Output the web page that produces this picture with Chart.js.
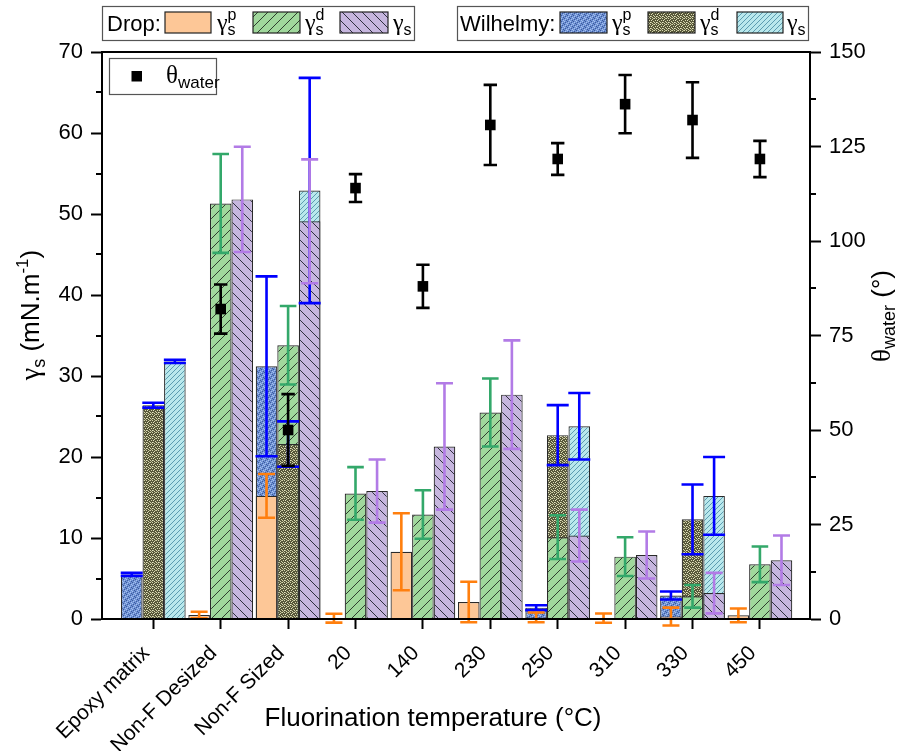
<!DOCTYPE html>
<html>
<head>
<meta charset="utf-8">
<script src="https://cdn.jsdelivr.net/npm/chart.js@4.4.0/dist/chart.umd.min.js"></script>
<style>
html, body { margin: 0; padding: 0; background: #fff; }
#wrap { width: 899px; height: 751px; }
</style>
</head>
<body>
<div id="wrap"><canvas id="chart" width="899" height="751"></canvas></div>
<script>
const categories = ['Epoxy matrix', 'Non-F Desized', 'Non-F Sized', '20', '140', '230', '250', '310', '330', '450'];

// Drop method, mN/m
const dropPolar = [null, 0.5, 15.2, 0.1, 8.3, 2.1, 0.2, 0.1, 0.3, 0.45];
const dropPolarErr = [null, 0.4, 2.7, 0.55, 4.75, 2.5, 0.6, 0.57, 1.1, 0.85];
const dropDisp = [null, 51.3, 33.8, 15.5, 12.9, 25.5, 10.1, 7.7, 2.8, 6.75];
const dropDispErr = [null, 6.1, 4.85, 3.25, 3.0, 4.2, 2.7, 2.4, 1.4, 2.2];
const dropTotal = [null, 51.8, 49.1, 15.8, 21.3, 27.7, 10.3, 7.9, 3.2, 7.25];
const dropTotalErr = [null, 6.5, 7.65, 3.9, 7.8, 6.7, 3.2, 2.9, 2.5, 3.05];

// Wilhelmy method, mN/m
const wilPolar = [5.5, null, 31.2, null, null, null, 1.4, null, 2.9, null];
const wilPolarErr = [0.2, null, 11.1, null, null, null, 0.3, null, 0.5, null];
const wilDisp = [26.4, null, 21.6, null, null, null, 22.7, null, 12.3, null];
const wilDispErr = [0.3, null, 2.8, null, null, null, 3.7, null, 4.3, null];
const wilTotal = [31.8, null, 52.9, null, null, null, 23.8, null, 15.2, null];
const wilTotalErr = [0.2, null, 13.9, null, null, null, 4.1, null, 4.8, null];

// water contact angle, degrees
const thetaWater = [null, 82, 50, 114, 88, 130.7, 121.7, 136.2, 132, 121.7];
const thetaErr = [null, 6.5, 9.5, 3.7, 5.7, 10.6, 4.2, 7.7, 10, 4.8];

const SANS = '"Liberation Sans", Arial, sans-serif';
const SERIF = '"Liberation Serif", "Times New Roman", serif';

// fill patterns
function tile(w, h, draw) {
    const c = document.createElement('canvas');
    c.width = w; c.height = h;
    draw(c.getContext('2d'), w, h);
    return document.createElement('canvas').getContext('2d').createPattern(c, 'repeat');
}
function hatch(bg, fg, s, lw, back) {
    return tile(s, s, function (g) {
        g.fillStyle = bg; g.fillRect(0, 0, s, s);
        g.strokeStyle = fg; g.lineWidth = lw; g.beginPath();
        if (back) {
            g.moveTo(0, 0); g.lineTo(s, s);
            g.moveTo(-1, s - 1); g.lineTo(1, s + 1);
            g.moveTo(s - 1, -1); g.lineTo(s + 1, 1);
        } else {
            g.moveTo(0, s); g.lineTo(s, 0);
            g.moveTo(-1, 1); g.lineTo(1, -1);
            g.moveTo(s - 1, s + 1); g.lineTo(s + 1, s - 1);
        }
        g.stroke();
    });
}
function speckle(bg, dots) {
    return tile(6, 6, function (g) {
        g.fillStyle = bg; g.fillRect(0, 0, 6, 6);
        dots.forEach(function (d) { g.fillStyle = d[2]; g.fillRect(d[0], d[1], 1, 1); });
    });
}

const fillDropP = '#FDC797';
const fillDropD = hatch('#A0D89C', '#2f3f2f', 10, 1, false);
const fillDropS = hatch('#C6B6DE', '#2f2f3f', 10, 1, true);
const fillWilP = speckle('#6F92D4', [
    [0, 0, '#3C5A9C'], [3, 0, '#A8C2EE'], [1, 1, '#A8C2EE'], [4, 1, '#3C5A9C'],
    [2, 2, '#3C5A9C'], [5, 2, '#A8C2EE'], [0, 3, '#A8C2EE'], [3, 3, '#3C5A9C'],
    [1, 4, '#3C5A9C'], [4, 4, '#A8C2EE'], [2, 5, '#A8C2EE'], [5, 5, '#3C5A9C']
]);
const fillWilD = speckle('#57573A', [
    [0, 0, '#D8D8AE'], [2, 0, '#D8D8AE'], [4, 1, '#D8D8AE'], [1, 2, '#D8D8AE'],
    [3, 2, '#E4E4C2'], [5, 3, '#D8D8AE'], [0, 4, '#D8D8AE'], [2, 4, '#E4E4C2'],
    [4, 5, '#D8D8AE'], [1, 5, '#B8B890'], [3, 4, '#B8B890'], [5, 0, '#B8B890']
]);
const fillWilS = hatch('#B9E8EC', '#5C9CB0', 5, 1, false);

const ERR_ORANGE = '#FF7F0E';
const ERR_GREEN = '#33A86A';
const ERR_PURPLE = '#B27BE6';
const ERR_BLUE = '#0000FF';

// smaller bar of each pair sits in front, the larger behind
function splitPair(dropVals, wilVals, dropFill, wilFill) {
    const out = { front: [], back: [], frontFill: [], backFill: [] };
    categories.forEach(function (c, i) {
        const a = dropVals[i], b = wilVals[i];
        if (a != null && b != null) {
            const wilBehind = b >= a;
            out.back.push({ x: i, y: wilBehind ? b : a });
            out.front.push({ x: i, y: wilBehind ? a : b });
            out.backFill.push(wilBehind ? wilFill : dropFill);
            out.frontFill.push(wilBehind ? dropFill : wilFill);
        } else {
            out.back.push({ x: i, y: a != null ? a : b });
            out.front.push({ x: i, y: null });
            out.backFill.push(b != null ? wilFill : dropFill);
            out.frontFill.push(dropFill);
        }
    });
    return out;
}

const pairP = splitPair(dropPolar, wilPolar, fillDropP, fillWilP);
const pairD = splitPair(dropDisp, wilDisp, fillDropD, fillWilD);
const pairS = splitPair(dropTotal, wilTotal, fillDropS, fillWilS);

function barSet(data, fill, stack, order) {
    return {
        type: 'bar', data: data, stack: stack, order: order,
        backgroundColor: fill, borderColor: '#2a2a2a', borderWidth: 1.2,
        categoryPercentage: 0.96, barPercentage: 1, yAxisID: 'y'
    };
}

const datasets = [
    {
        type: 'scatter', order: 0, yAxisID: 'y2',
        data: thetaWater.map(function (v, i) { return { x: i, y: v }; }),
        pointStyle: 'rect', pointRadius: 7.5, backgroundColor: '#000', borderWidth: 0
    },
    barSet(pairP.front, pairP.frontFill, 'p', 1),
    barSet(pairD.front, pairD.frontFill, 'd', 1),
    barSet(pairS.front, pairS.frontFill, 's', 1),
    barSet(pairP.back, pairP.backFill, 'p', 2),
    barSet(pairD.back, pairD.backFill, 'd', 2),
    barSet(pairS.back, pairS.backFill, 's', 2)
];

const barErrors = [
    { vals: wilPolar, errs: wilPolarErr, ds: 4, color: ERR_BLUE, half: 11 },
    { vals: wilDisp, errs: wilDispErr, ds: 5, color: ERR_BLUE, half: 11 },
    { vals: wilTotal, errs: wilTotalErr, ds: 6, color: ERR_BLUE, half: 11 },
    { vals: dropPolar, errs: dropPolarErr, ds: 4, color: ERR_ORANGE, half: 8.5 },
    { vals: dropDisp, errs: dropDispErr, ds: 5, color: ERR_GREEN, half: 8.3 },
    { vals: dropTotal, errs: dropTotalErr, ds: 6, color: ERR_PURPLE, half: 8.5 }
];

function errorBar(g, x, yTop, yBot, half, color) {
    g.save();
    g.strokeStyle = color; g.lineWidth = 2.6; g.lineCap = 'butt';
    g.beginPath();
    g.moveTo(x, yTop); g.lineTo(x, yBot);
    g.moveTo(x - half, yTop); g.lineTo(x + half, yTop);
    g.moveTo(x - half, yBot); g.lineTo(x + half, yBot);
    g.stroke();
    g.restore();
}

function drawRich(g, parts, x, y, align) {
    let w = 0;
    parts.forEach(function (p) { g.font = p.f; p.w = g.measureText(p.t).width; if (!p.keep) w += p.w; });
    let cx = align === 'center' ? x - w / 2 : x;
    g.textAlign = 'left'; g.textBaseline = 'alphabetic'; g.fillStyle = '#000';
    parts.forEach(function (p) { g.font = p.f; g.fillText(p.t, cx, y + (p.dy || 0)); if (!p.keep) cx += p.w; });
}

function gammaParts(sup) {
    const parts = [{ t: 'γ', f: '24px ' + SERIF }];
    if (sup) parts.push({ t: sup, f: '16px ' + SANS, dy: -10, keep: true });
    parts.push({ t: 's', f: '16px ' + SANS, dy: 5 });
    return parts;
}

function swatch(g, x, y, w, h, fill) {
    g.fillStyle = fill; g.fillRect(x, y, w, h);
    g.strokeStyle = '#222'; g.lineWidth = 1.2; g.strokeRect(x, y, w, h);
}

const decor = {
    id: 'decor',
    beforeDatasetDraw(chart, args) {
        if (args.index !== 0) return;
        const g = chart.ctx, ys = chart.scales.y;
        barErrors.forEach(function (s) {
            const meta = chart.getDatasetMeta(s.ds);
            s.vals.forEach(function (v, i) {
                if (v == null) return;
                const x = meta.data[i].x;
                errorBar(g, x, ys.getPixelForValue(v + s.errs[i]), ys.getPixelForValue(v - s.errs[i]), s.half, s.color);
            });
        });
    },
    afterDatasetDraw(chart, args) {
        if (args.index !== 0) return;
        const g = chart.ctx, ys = chart.scales.y2, meta = chart.getDatasetMeta(0);
        thetaWater.forEach(function (v, i) {
            if (v == null) return;
            errorBar(g, meta.data[i].x, ys.getPixelForValue(v + thetaErr[i]), ys.getPixelForValue(v - thetaErr[i]), 6.7, '#000');
        });
    },
    afterDraw(chart) {
        const g = chart.ctx, a = chart.chartArea;
        const ys = chart.scales.y, y2 = chart.scales.y2;
        g.save();
        // frame
        g.strokeStyle = '#000'; g.lineWidth = 2;
        g.strokeRect(a.left, a.top, a.right - a.left, a.bottom - a.top);
        // minor ticks
        g.beginPath();
        for (let v = 5; v < 70; v += 10) {
            const py = Math.round(ys.getPixelForValue(v));
            g.moveTo(a.left, py); g.lineTo(a.left - 6, py);
        }
        for (let v = 12.5; v < 150; v += 25) {
            const py = Math.round(y2.getPixelForValue(v));
            g.moveTo(a.right, py); g.lineTo(a.right + 6, py);
        }
        g.stroke();

        // axis titles
        g.fillStyle = '#000';
        g.font = '26px ' + SANS; g.textAlign = 'center'; g.textBaseline = 'alphabetic';
        g.fillText('Fluorination temperature (°C)', 433, 726);

        g.save();
        g.translate(31, 315); g.rotate(-Math.PI / 2);
        drawRich(g, [
            { t: 'γ', f: '28px ' + SERIF },
            { t: 's', f: '18px ' + SANS, dy: 6 },
            { t: ' (mN.m', f: '26px ' + SANS },
            { t: '-1', f: '17px ' + SANS, dy: -11 },
            { t: ')', f: '26px ' + SANS }
        ], 0, 8, 'center');
        g.restore();

        g.save();
        g.translate(884, 316); g.rotate(-Math.PI / 2);
        drawRich(g, [
            { t: 'θ', f: '27px ' + SERIF },
            { t: 'water', f: '18px ' + SANS, dy: 5 },
            { t: ' (°)', f: '26px ' + SANS }
        ], 0, 6, 'center');
        g.restore();

        // legend: drop
        g.fillStyle = '#fff'; g.fillRect(102, 6, 312, 34);
        g.strokeStyle = '#555'; g.lineWidth = 1.2; g.strokeRect(102.5, 6.5, 312, 34);
        g.fillStyle = '#000'; g.font = '22px ' + SANS; g.textAlign = 'left';
        g.fillText('Drop:', 107, 31);
        swatch(g, 165, 12, 46, 21, fillDropP);
        drawRich(g, gammaParts('p'), 217, 30);
        swatch(g, 253, 12, 47, 21, fillDropD);
        drawRich(g, gammaParts('d'), 305, 30);
        swatch(g, 340, 12, 48, 21, fillDropS);
        drawRich(g, gammaParts(null), 393, 30);

        // legend: Wilhelmy
        g.fillStyle = '#fff'; g.fillRect(457, 6, 351, 34);
        g.strokeStyle = '#555'; g.lineWidth = 1.2; g.strokeRect(457.5, 6.5, 351, 34);
        g.fillStyle = '#000'; g.font = '22px ' + SANS; g.textAlign = 'left';
        g.fillText('Wilhelmy:', 460, 31);
        swatch(g, 560, 12, 47, 21, fillWilP);
        drawRich(g, gammaParts('p'), 612, 30);
        swatch(g, 648, 12, 47, 21, fillWilD);
        drawRich(g, gammaParts('d'), 700, 30);
        swatch(g, 737, 12, 46, 21, fillWilS);
        drawRich(g, gammaParts(null), 787, 30);

        // legend: contact angle
        g.fillStyle = '#fff'; g.fillRect(109, 58, 107, 36);
        g.strokeStyle = '#555'; g.lineWidth = 1.2; g.strokeRect(109.5, 58.5, 107, 36);
        g.fillStyle = '#000'; g.fillRect(131.5, 71, 10.5, 10.5);
        drawRich(g, [
            { t: 'θ', f: '25px ' + SERIF },
            { t: 'water', f: '17px ' + SANS, dy: 5 }
        ], 166, 83);
        g.restore();
    }
};

const tickFont = { family: SANS, size: 22 };

new Chart(document.getElementById('chart').getContext('2d'), {
    type: 'bar',
    data: { datasets: datasets },
    options: {
        responsive: false,
        animation: false,
        layout: { padding: { top: 52, left: 0, right: 0, bottom: 0 } },
        scales: {
            x: {
                type: 'linear', min: -0.761, max: 9.743, stacked: true, offset: false,
                afterBuildTicks: function (s) { s.ticks = categories.map(function (c, i) { return { value: i }; }); },
                afterFit: function (s) { s.height = 132; },
                grid: { offset: false, drawOnChartArea: false, tickLength: 10, tickWidth: 2, tickColor: '#000' },
                border: { color: '#000', width: 2 },
                ticks: {
                    autoSkip: false, minRotation: 45, maxRotation: 45, labelOffset: -7, padding: 12,
                    color: '#000', font: { family: SANS, size: 21 },
                    callback: function (v) { return categories[v]; }
                }
            },
            y: {
                position: 'left', min: 0, max: 70, stacked: false,
                afterFit: function (s) { s.width = 102; },
                grid: { drawOnChartArea: false, tickLength: 11, tickWidth: 2, tickColor: '#000' },
                border: { color: '#000', width: 2 },
                ticks: { stepSize: 10, padding: 8, color: '#000', font: tickFont }
            },
            y2: {
                position: 'right', min: 0, max: 150,
                afterFit: function (s) { s.width = 89; },
                grid: { drawOnChartArea: false, tickLength: 11, tickWidth: 2, tickColor: '#000' },
                border: { color: '#000', width: 2 },
                ticks: { stepSize: 25, padding: 8, color: '#000', font: tickFont }
            }
        },
        plugins: {
            legend: { display: false },
            tooltip: { enabled: false }
        }
    },
    plugins: [decor]
});
</script>
</body>
</html>
